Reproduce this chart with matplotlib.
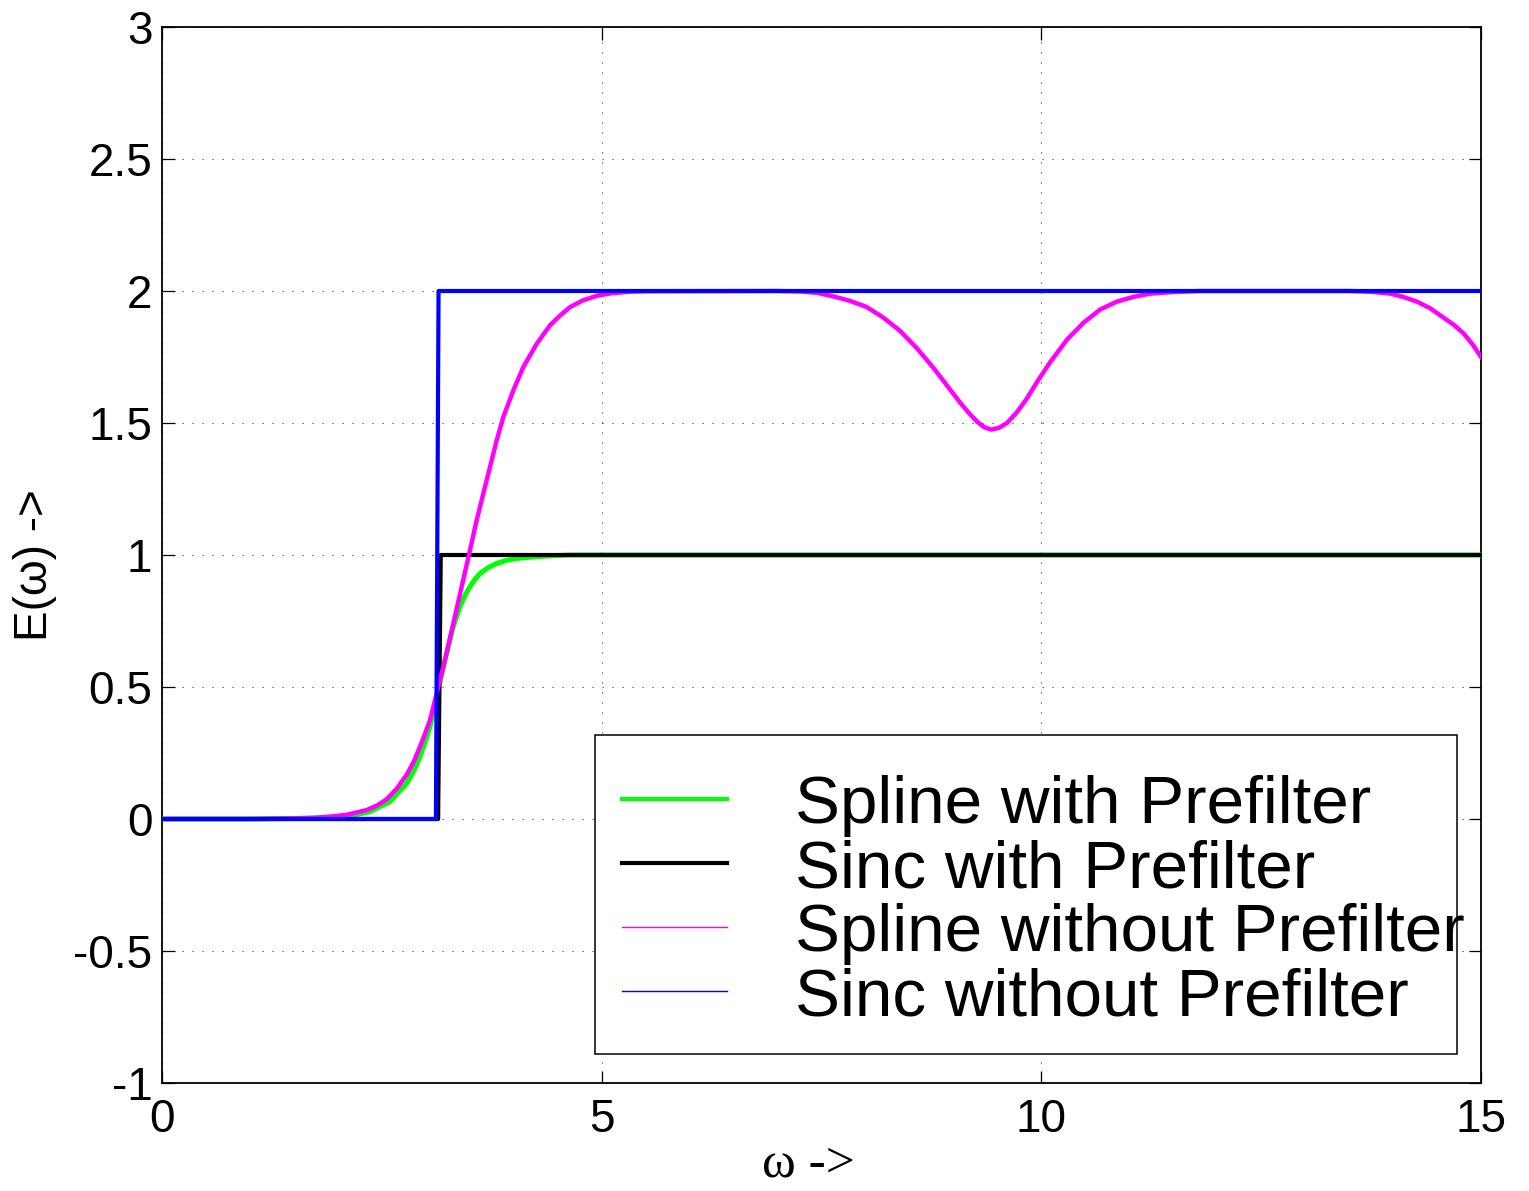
import matplotlib
matplotlib.use("Agg")
import matplotlib.pyplot as plt
from matplotlib.lines import Line2D
from matplotlib.patches import Rectangle

# ---------------- data ----------------
spline_pre_x = [0.0, 1.0, 1.5, 1.911, 2.138, 2.366, 2.593, 2.783, 2.86, 2.934,
                2.99, 3.048, 3.124, 3.218, 3.313, 3.389, 3.45, 3.503, 3.56, 3.617,
                3.71, 3.806, 3.92, 4.033, 4.2, 4.375, 4.64, 5.0, 15.0]
spline_pre_y = [0.0, 0.0, 0.002, 0.006, 0.011, 0.028, 0.066, 0.135, 0.18, 0.236,
                0.29, 0.35, 0.463, 0.602, 0.729, 0.805, 0.85, 0.88, 0.908, 0.93,
                0.952, 0.968, 0.98, 0.987, 0.992, 0.996, 1.0, 1.0, 1.0]

sinc_pre_x = [0.0, 3.14, 3.17, 15.0]
sinc_pre_y = [0.0, 0.0, 1.0, 1.0]

spline_nopre_x = [0.0, 1.0, 1.5, 1.721, 1.911, 2.1, 2.328, 2.45, 2.555, 2.67,
                  2.783, 2.86, 2.934, 2.99, 3.048, 3.124, 3.218, 3.313, 3.408,
                  3.503, 3.578, 3.692, 3.806, 3.882, 3.996, 4.109, 4.261, 4.413,
                  4.52, 4.64, 4.79, 4.95, 5.1, 5.3, 5.5, 7.0, 7.26, 7.45, 7.63,
                  7.82, 8.01, 8.2, 8.39, 8.58, 8.77, 8.92, 9.07, 9.17, 9.27, 9.35,
                  9.43, 9.52, 9.61, 9.72, 9.83, 9.96, 10.10, 10.29, 10.48, 10.67,
                  10.86, 11.05, 11.24, 11.5, 11.8, 13.51, 13.75, 13.97, 14.12,
                  14.27, 14.42, 14.57, 14.69, 14.80, 14.9, 15.0]
spline_nopre_y = [0.0, 0.0, 0.002, 0.004, 0.009, 0.016, 0.034, 0.052, 0.075, 0.115,
                  0.168, 0.215, 0.274, 0.322, 0.375, 0.476, 0.602, 0.741, 0.880,
                  1.019, 1.131, 1.283, 1.434, 1.523, 1.624, 1.712, 1.80, 1.870,
                  1.905, 1.939, 1.965, 1.982, 1.991, 1.997, 1.999, 2.0, 1.998, 1.993,
                  1.98, 1.963, 1.94, 1.90, 1.85, 1.785, 1.71, 1.645, 1.58, 1.54,
                  1.505, 1.484, 1.475, 1.482, 1.50, 1.54, 1.59, 1.66, 1.73, 1.815,
                  1.88, 1.93, 1.96, 1.978, 1.99, 1.996, 2.0, 2.0, 1.997, 1.99,
                  1.977, 1.96, 1.935, 1.90, 1.872, 1.84, 1.80, 1.75]

sinc_nopre_x = [0.0, 3.115, 3.145, 15.0]
sinc_nopre_y = [0.0, 0.0, 2.0, 2.0]

labels = ["Spline with Prefilter", "Sinc with Prefilter",
          "Spline without Prefilter", "Sinc without Prefilter"]
colors = ["#00ff00", "#000000", "#ff00ff", "#0000ff"]

xticks = [0, 5, 10, 15]
xticklabels = ["0", "5", "10", "15"]
yticks = [-1, -0.5, 0, 0.5, 1, 1.5, 2, 2.5, 3]
yticklabels = ["-1", "-0.5", "0", "0.5", "1", "1.5", "2", "2.5", "3"]

# ---------------- figure ----------------
plt.rcParams["font.family"] = ["Liberation Sans", "DejaVu Sans"]
W, H = 1529, 1191
fig = plt.figure(figsize=(W / 100, H / 100), dpi=100)
ax = fig.add_axes([162 / W, 1 - 1083 / H, (1481 - 162) / W, (1083 - 27) / H])

lw_main = [3.6, 3.0, 3.2, 3.0]
series = [(spline_pre_x, spline_pre_y), (sinc_pre_x, sinc_pre_y),
          (spline_nopre_x, spline_nopre_y), (sinc_nopre_x, sinc_nopre_y)]
for (xs, ys), c, lw, lab in zip(series, colors, lw_main, labels):
    ax.plot(xs, ys, color=c, lw=lw, label=lab, solid_joinstyle="round", zorder=3)

ax.set_xlim(0, 15)
ax.set_ylim(-1, 3)
ax.set_xticks(xticks)
ax.set_xticklabels(xticklabels)
ax.set_yticks(yticks)
ax.set_yticklabels(yticklabels)
ax.tick_params(direction="in", length=9, width=0.9, labelsize=33,
               top=True, right=True, color="black")
ax.tick_params(axis="x", pad=11)
ax.tick_params(axis="y", pad=7)
ax.set_axisbelow(True)
ax.grid(True, color="black", lw=0.8, linestyle=(0, (1, 8)), alpha=0.8)
for s in ax.spines.values():
    s.set_linewidth(1.3)

ax.set_ylabel("E(ω) ->", fontsize=33)
ax.yaxis.set_label_coords(-0.0796, 0.49)
ax.set_xlabel("ω ->", fontsize=37, family=["Liberation Serif", "DejaVu Serif"])
ax.xaxis.set_label_coords(0.49, -0.055)

# ---------------- legend (drawn like the MATLAB one) ----------------
def fx(px):
    return px / W

def fy(py):
    return 1 - py / H

box = Rectangle((fx(595), fy(1054)), fx(1457) - fx(595), fy(735) - fy(1054),
                transform=fig.transFigure, facecolor="white", edgecolor="black",
                lw=1.1, zorder=10)
fig.add_artist(box)
leg_rows = [799, 863, 927, 991]
leg_lw = [3.0, 3.0, 1.0, 1.0]
for row, c, lw, lab in zip(leg_rows, colors, leg_lw, labels):
    fig.add_artist(Line2D([fx(622), fx(727)], [fy(row), fy(row)], color=c, lw=lw,
                          transform=fig.transFigure, zorder=11))
    fig.text(fx(795), fy(row + 24), lab, fontsize=48.5, ha="left", va="baseline",
             zorder=12)

fig.savefig("out.png", dpi=100)
